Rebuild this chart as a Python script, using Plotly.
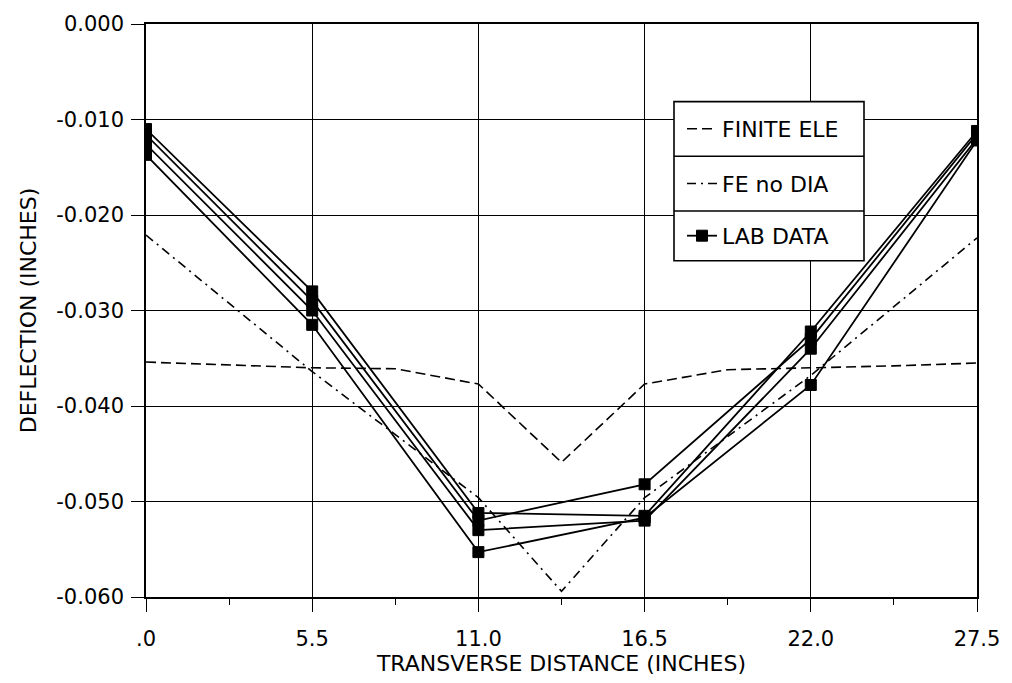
import plotly.graph_objects as go

# ---------------- data ----------------
x_lab = [0.0, 5.5, 11.0, 16.5, 22.0, 27.5]
lab_1 = [-0.0110, -0.0280, -0.0512, -0.0515, -0.0322, -0.0112]
lab_2 = [-0.0116, -0.0290, -0.0520, -0.0482, -0.0330, -0.0115]
lab_3 = [-0.0126, -0.0300, -0.0530, -0.0520, -0.0340, -0.0120]
lab_4 = [-0.0137, -0.0315, -0.0553, -0.0517, -0.0378, -0.0122]

x_fe = [0.0, 2.75, 5.5, 8.25, 11.0, 13.75, 16.5, 19.25, 22.0, 24.75, 27.5]
fe_finite = [-0.0354, -0.0357, -0.0360, -0.0361, -0.0377, -0.0459,
             -0.0377, -0.0362, -0.0360, -0.0358, -0.0355]

x_nodia = [0.0, 5.5, 11.0, 13.75, 16.5, 22.0, 27.5]
fe_nodia = [-0.0221, -0.0364, -0.0496, -0.0594, -0.0496, -0.0368, -0.0224]

x_tickvals = [0.0, 5.5, 11.0, 16.5, 22.0, 27.5]
x_ticktext = [".0", "5.5", "11.0", "16.5", "22.0", "27.5"]
y_tickvals = [0.0, -0.01, -0.02, -0.03, -0.04, -0.05, -0.06]
y_ticktext = ["0.000", "-0.010", "-0.020", "-0.030", "-0.040", "-0.050", "-0.060"]

legend_names = ["FINITE ELE", "FE no DIA", "LAB DATA"]

# ---------------- layout geometry (pixels) ----------------
W, H = 1012, 683
L, R, T, B = 146, 977, 21, 597
FONT = "DejaVu Sans"


def px_x(p):
    return (p - L) / (R - L)


def px_y(p):
    return (B - p) / (B - T)


fig = go.Figure()

fig.add_trace(go.Scatter(
    x=x_fe, y=fe_finite, mode="lines", name=legend_names[0],
    line=dict(color="black", width=1.6, dash="10px,5px"),
    legend="legend", showlegend=True,
))
fig.add_trace(go.Scatter(
    x=x_nodia, y=fe_nodia, mode="lines", name=legend_names[1],
    line=dict(color="black", width=1.6, dash="9px,5px,2px,5px"),
    legend="legend2", showlegend=True,
))
for i, ys in enumerate([lab_1, lab_2, lab_3, lab_4]):
    fig.add_trace(go.Scatter(
        x=x_lab, y=ys, mode="lines+markers", name=legend_names[2],
        line=dict(color="black", width=1.8),
        marker=dict(symbol="square", size=11, color="black",
                    line=dict(color="black", width=1)),
        legend="legend3", showlegend=(i == 0), legendgroup="lab",
    ))

# legend box with row separators
box_l, box_r = 674, 864
rows = [99, 154, 209, 259]
shapes = [dict(type="rect", xref="paper", yref="paper",
               x0=px_x(box_l), x1=px_x(box_r), y0=px_y(rows[-1]), y1=px_y(rows[0]),
               line=dict(color="black", width=1.6), fillcolor="white", layer="above")]
for r in rows[1:-1]:
    shapes.append(dict(type="line", xref="paper", yref="paper",
                       x0=px_x(box_l), x1=px_x(box_r), y0=px_y(r), y1=px_y(r),
                       line=dict(color="black", width=1.6), layer="above"))

leg_common = dict(bgcolor="rgba(0,0,0,0)", borderwidth=0,
                  font=dict(family=FONT, size=22, color="black"),
                  xanchor="left", yanchor="middle", itemwidth=30)

fig.update_layout(
    width=W, height=H,
    showlegend=True,
    margin=dict(l=L, r=W - R, t=T, b=H - B, pad=0),
    paper_bgcolor="white", plot_bgcolor="white",
    font=dict(family=FONT, size=20, color="black"),
    shapes=shapes,
    legend=dict(x=px_x(682), y=px_y((rows[0] + rows[1]) / 2), **leg_common),
    legend2=dict(x=px_x(682), y=px_y((rows[1] + rows[2]) / 2), **leg_common),
    legend3=dict(x=px_x(682), y=px_y((rows[2] + rows[3]) / 2), **leg_common),
    xaxis=dict(
        range=[0, 27.5], tickvals=x_tickvals, ticktext=x_ticktext,
        showgrid=True, gridcolor="black", gridwidth=1.4,
        showline=True, linecolor="black", linewidth=1.6, mirror=True,
        ticks="outside", ticklen=13, tickwidth=1.4, tickcolor="black",
        tickfont=dict(family=FONT, size=21), ticklabelstandoff=9,
        minor=dict(dtick=2.75, tick0=0, ticks="outside", ticklen=6,
                   tickwidth=1.4, tickcolor="black", showgrid=False),
        zeroline=False,
        title=dict(text="TRANSVERSE DISTANCE (INCHES)",
                   font=dict(family=FONT, size=22), standoff=2),
    ),
    yaxis=dict(
        range=[-0.06, 0.0], tickvals=y_tickvals, ticktext=y_ticktext,
        showgrid=True, gridcolor="black", gridwidth=1.4,
        showline=True, linecolor="black", linewidth=1.6, mirror=True,
        ticks="outside", ticklen=13, tickwidth=1.4, tickcolor="black",
        tickfont=dict(family=FONT, size=21), ticklabelstandoff=3,
        zeroline=False,
        title=dict(text="DEFLECTION (INCHES)",
                   font=dict(family=FONT, size=22), standoff=14),
    ),
)

fig.write_html("out.html")
